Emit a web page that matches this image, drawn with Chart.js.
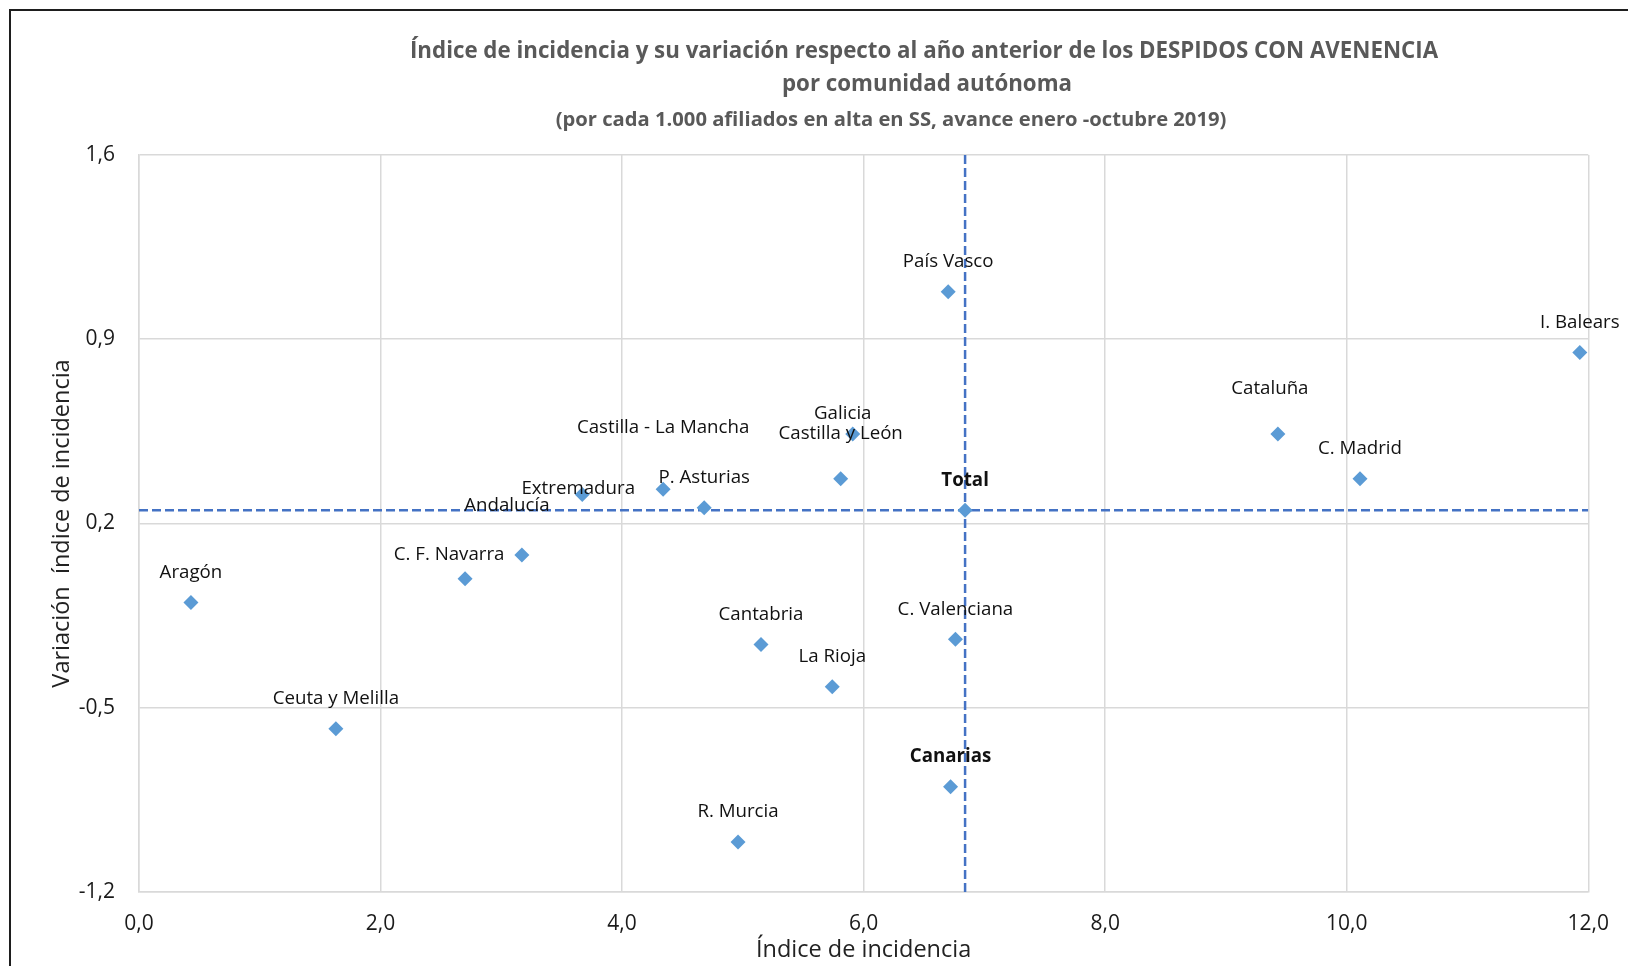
<!DOCTYPE html>
<html lang="es">
<head>
<meta charset="utf-8">
<title>Despidos con avenencia por comunidad autónoma</title>
<script src="https://cdn.jsdelivr.net/npm/chart.js@4.4.1/dist/chart.umd.min.js"></script>
<style>
    html, body { margin: 0; padding: 0; background: #fff; overflow: hidden; }
    .rtb-chart { position: relative; width: 1628px; height: 966px; }
    .rtb-chart canvas { position: absolute; left: 0; top: 0; }
    .rtb-frame { position: absolute; left: 9px; top: 9px; width: 3000px; height: 3000px; border-left: 2px solid #1e1e1e; border-top: 2px solid #1e1e1e; pointer-events: none; }
</style>
</head>
<body>

<div class="rtb-chart">
    <canvas width="1628" height="966"></canvas>
    <div class="rtb-frame"></div>
</div>

<script>

const regions = [
    'Andalucía', 'Aragón', 'P. Asturias', 'I. Balears', 'Canarias', 'Cantabria',
    'Castilla - La Mancha', 'Castilla y León', 'Cataluña', 'C. Valenciana', 'Extremadura',
    'Galicia', 'C. Madrid', 'R. Murcia', 'C. F. Navarra', 'País Vasco', 'La Rioja', 'Ceuta y Melilla'
];

const incidence = [
    3.17, 0.43, 4.68, 11.93, 6.72, 5.15,
    4.34, 5.81, 9.43, 6.76, 3.67,
    5.91, 10.11, 4.96, 2.70, 6.70, 5.74, 1.63
];

const variation = [
    0.08, -0.10, 0.26, 0.85, -0.80, -0.26,
    0.33, 0.37, 0.54, -0.24, 0.31,
    0.54, 0.37, -1.01, -0.01, 1.08, -0.42, -0.58
];

const totalLabel = 'Total';
const totalIncidence = 6.84;
const totalVariation = 0.25;

const xTicks = [ 0, 2, 4, 6, 8, 10, 12 ];
const yTicks = [ -1.2, -0.5, 0.2, 0.9, 1.6 ];

const titleLines = [
    'Índice de incidencia y su variación respecto al año anterior de los DESPIDOS CON AVENENCIA',
    'por comunidad autónoma',
    '(por cada 1.000 afiliados en alta en SS, avance enero -octubre 2019)'
];

const xTitle = 'Índice de incidencia';
const yTitle = 'Variación  índice de incidencia';

// label nudges in px (dx, dy from the marker), default is straight above
const labelNudge = {
    'Andalucía': [ -15, -49 ],
    'P. Asturias': [ 0, -30 ],
    'Castilla - La Mancha': [ 0, -62 ],
    'Castilla y León': [ 0, -45 ],
    'Cataluña': [ -8, -45 ],
    'Extremadura': [ -4, -6 ],
    'Galicia': [ -10, -20 ],
    'C. F. Navarra': [ -16, -24 ]
};

const boldLabels = [ 'Total', 'Canarias' ];

const FONT = "'Open Sans', sans-serif";

/**
 * format a number the spanish way
 * @param {Float} v value
 * @returns string
 */
function num_es( v ) {

    return v.toFixed( 1 ).replace( '.', ',' );

};

/**
 * draws the three title lines above the plot
 */
const title_plugin = {
    id: 'rtbTitle',
    afterDraw( chart ) {

        let ctx = chart.ctx,
            pos = [ [ 924, 52, 22.3 ], [ 927, 85, 22.3 ], [ 891, 120, 20.2 ] ];

        ctx.save();
        ctx.fillStyle = '#595959';
        ctx.textAlign = 'center';
        ctx.textBaseline = 'middle';

        titleLines.forEach( ( t, i ) => {

            ctx.font = 'bold ' + pos[ i ][2] + 'px ' + FONT;
            ctx.fillText( t, pos[ i ][0], pos[ i ][1] );

        } );

        ctx.restore();

    }
};

/**
 * writes the region name next to every marker
 */
const label_plugin = {
    id: 'rtbLabels',
    afterDatasetsDraw( chart ) {

        let ctx = chart.ctx;

        ctx.save();
        ctx.fillStyle = '#111';
        ctx.textAlign = 'center';
        ctx.textBaseline = 'middle';

        [ 0, 1 ].forEach( ( d ) => {

            let meta = chart.getDatasetMeta( d ),
                names = d === 0 ? regions : [ totalLabel ];

            meta.data.forEach( ( p, i ) => {

                let name = names[ i ],
                    n = labelNudge[ name ] || [ 0, -30 ];

                ctx.font = ( boldLabels.includes( name ) ? 'bold ' : '' ) + '18.7px ' + FONT;
                ctx.fillText( name, p.x + n[0], p.y + n[1] );

            } );

        } );

        ctx.restore();

    }
};

let ctx = document.querySelector( '.rtb-chart canvas' ).getContext( '2d' ),
    blue = '#5B9BD5',
    dash = '#4472C4',
    grid = '#D9D9D9';

new Chart( ctx, {
    type: 'scatter',
    data: {
        datasets: [ {
            data: regions.map( ( r, i ) => ( { x: incidence[ i ], y: variation[ i ] } ) ),
            pointStyle: 'rectRot',
            pointRadius: 7.5,
            pointBorderWidth: 0,
            backgroundColor: blue,
            borderColor: blue
        }, {
            data: [ { x: totalIncidence, y: totalVariation } ],
            pointStyle: 'rectRot',
            pointRadius: 7.5,
            pointBorderWidth: 0,
            backgroundColor: blue,
            borderColor: blue
        }, {
            data: [ { x: xTicks[0], y: totalVariation }, { x: xTicks[ xTicks.length - 1 ], y: totalVariation } ],
            showLine: true,
            pointRadius: 0,
            borderColor: dash,
            borderWidth: 2.5,
            borderDash: [ 9, 4 ]
        }, {
            data: [ { x: totalIncidence, y: yTicks[0] }, { x: totalIncidence, y: yTicks[ yTicks.length - 1 ] } ],
            showLine: true,
            pointRadius: 0,
            borderColor: dash,
            borderWidth: 2.5,
            borderDash: [ 9, 4 ]
        } ]
    },
    options: {
        responsive: false,
        animation: false,
        layout: {
            padding: { top: 155, right: 37, bottom: 0, left: 0 }
        },
        plugins: {
            legend: { display: false },
            tooltip: { enabled: false }
        },
        scales: {
            x: {
                type: 'linear',
                min: xTicks[0],
                max: xTicks[ xTicks.length - 1 ],
                afterBuildTicks: ( scale ) => { scale.ticks = xTicks.map( v => ( { value: v } ) ); },
                afterFit: ( scale ) => { scale.height = 74; },
                border: { color: grid, width: 1.5 },
                grid: { color: grid, lineWidth: 1.5, drawTicks: false },
                ticks: {
                    padding: 19,
                    color: '#1a1a1a',
                    font: { family: FONT, size: 21 },
                    callback: ( v ) => num_es( v )
                },
                title: {
                    display: true,
                    text: xTitle,
                    color: '#222',
                    font: { family: FONT, size: 23.5 },
                    padding: { top: 0, bottom: 2 }
                }
            },
            y: {
                type: 'linear',
                min: yTicks[0],
                max: yTicks[ yTicks.length - 1 ],
                afterBuildTicks: ( scale ) => { scale.ticks = yTicks.map( v => ( { value: v } ) ); },
                afterFit: ( scale ) => { scale.width = 139; },
                border: { color: grid, width: 1.5 },
                grid: { color: grid, lineWidth: 1.5, drawTicks: false },
                ticks: {
                    padding: 24,
                    color: '#1a1a1a',
                    font: { family: FONT, size: 21 },
                    callback: ( v ) => num_es( v )
                },
                title: {
                    display: true,
                    text: yTitle,
                    color: '#222',
                    font: { family: FONT, size: 23.5 },
                    padding: { top: 48, bottom: 0 }
                }
            }
        }
    },
    plugins: [ title_plugin, label_plugin ]
} );

</script>
</body>
</html>
